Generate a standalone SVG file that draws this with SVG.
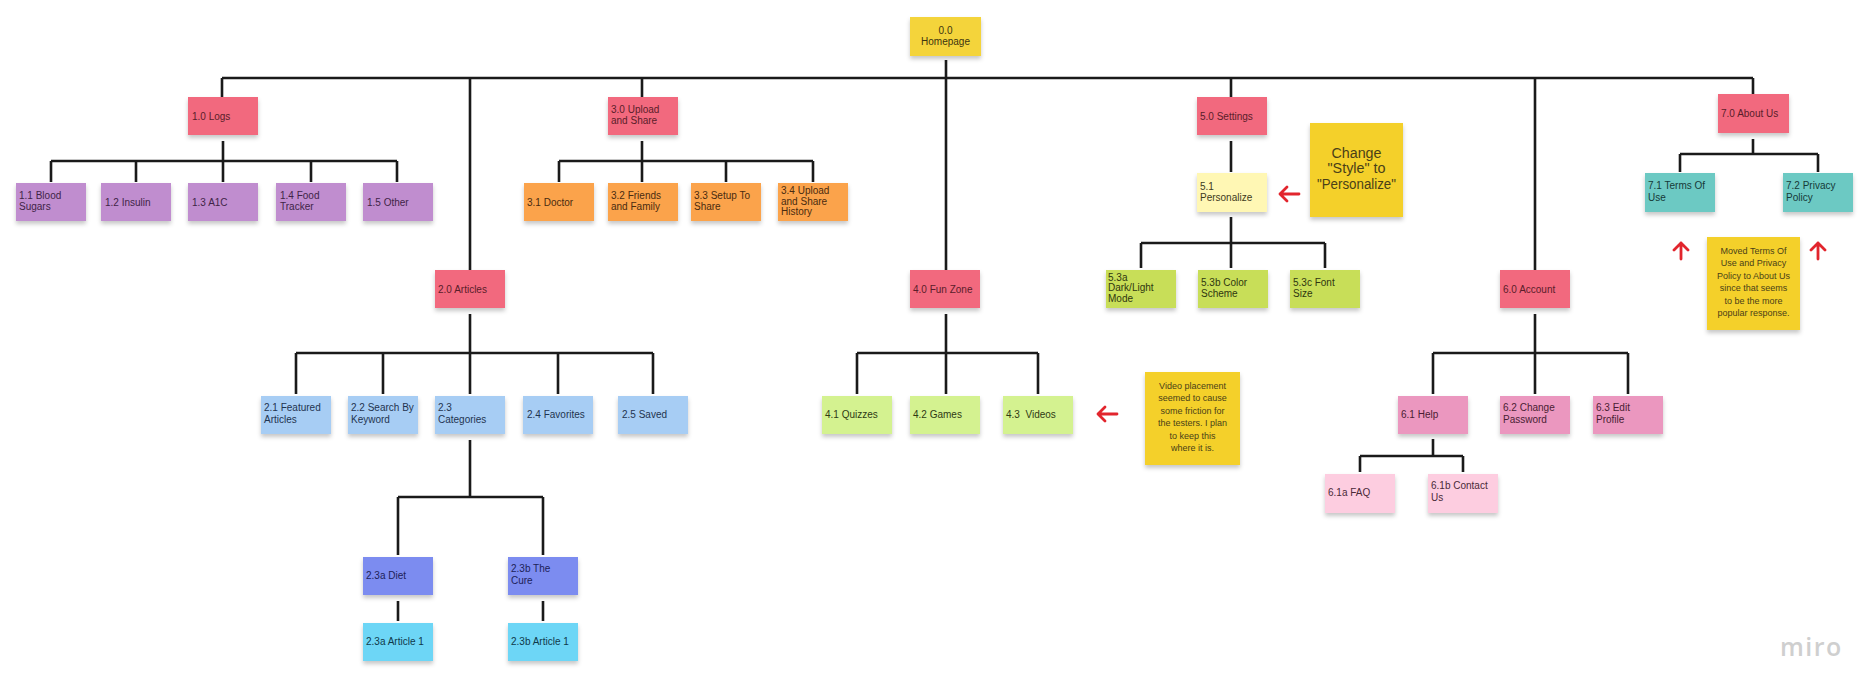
<svg xmlns="http://www.w3.org/2000/svg" width="1863" height="689" viewBox="0 0 1863 689">
<defs>
<filter id="sh" x="-20%" y="-20%" width="140%" height="150%">
<feDropShadow dx="0" dy="3" stdDeviation="2" flood-color="#000" flood-opacity="0.22"/>
</filter>
<style>
.n rect{filter:url(#sh)}
.t{font-family:"Liberation Sans",Arial,sans-serif;font-size:10px;fill:#333}
.c{text-anchor:middle}
.red rect{fill:#f2697e}
.red .t{fill:#5a1d2a}
.pur rect{fill:#c08dcf}
.pur .t{fill:#3f2447}
.ora rect{fill:#fba34c}
.ora .t{fill:#4a2b10}
.blu rect{fill:#a7cdf4}
.blu .t{fill:#1f3450}
.vio rect{fill:#7c8cf0}
.vio .t{fill:#1d2258}
.cya rect{fill:#6dd6f6}
.cya .t{fill:#10394a}
.lgr rect{fill:#d4f290}
.lgr .t{fill:#2f3a14}
.pye rect{fill:#fff7b4}
.pye .t{fill:#3d3a1c}
.ygr rect{fill:#c8de58}
.ygr .t{fill:#2f3610}
.tea rect{fill:#6cc9c3}
.tea .t{fill:#163a38}
.pnk rect{fill:#eb97bf}
.pnk .t{fill:#4a1d33}
.lpk rect{fill:#fdcde0}
.lpk .t{fill:#4a2a38}
.yel rect{fill:#f4d43a}
.yel .t{fill:#3d3510}
.note rect{fill:#f4d02c}
.nt{font-family:"Liberation Sans",Arial,sans-serif;font-size:9px;fill:#4a3f18;text-anchor:middle}
.ct{font-family:"Liberation Sans",Arial,sans-serif;font-size:14px;fill:#4a3f18;text-anchor:middle}
#connectors path{fill:none;stroke:#1a1a1a;stroke-width:2.6}
.arr{fill:none;stroke:#e2252d;stroke-width:2.8;stroke-linecap:round;stroke-linejoin:round}
</style>
</defs>
<rect width="1863" height="689" fill="#ffffff"/>

<g id="connectors">
<path d="M946 60V270 M222 78H1753 M222 78V97 M470 78V270 M642 78V97 M1231 78V97 M1535 78V270 M1753 78V94"/>
<path d="M223 141V161 M51 161H397 M51 161V182 M136 161V182 M223 161V182 M311 161V182 M397 161V182"/>
<path d="M642 141V161 M559 161H813 M559 161V182 M642 161V182 M726 161V182 M813 161V182"/>
<path d="M470 314V353 M296 353H653 M296 353V394 M383 353V394 M470 353V394 M558 353V394 M653 353V394"/>
<path d="M470 440V497 M398 497H543 M398 497V555 M543 497V555 M398 601V621 M543 601V621"/>
<path d="M946 314V353 M857 353H1038 M857 353V394 M946 353V394 M1038 353V394"/>
<path d="M1231 141V172 M1231 217V243 M1141 243H1325 M1141 243V268 M1231 243V268 M1325 243V268"/>
<path d="M1535 314V353 M1433 353H1628 M1433 353V394 M1535 353V394 M1628 353V394"/>
<path d="M1433 439V456 M1360 456H1463 M1360 456V472 M1463 456V472"/>
<path d="M1753 139V154 M1680 154H1818 M1680 154V172 M1818 154V172"/>
</g>

<g id="n00" class="n yel"><rect x="910" y="17" width="71" height="39"/><text class="t c" x="945.5" y="33.5">0.0</text><text class="t c" x="945.5" y="45">Homepage</text></g>

<g id="n10" class="n red"><rect x="188" y="97" width="70" height="38"/><text class="t" x="192" y="119.5">1.0 Logs</text></g>
<g id="n11" class="n pur"><rect x="16" y="183" width="70" height="38"/><text class="t" x="19" y="198.5">1.1 Blood</text><text class="t" x="19" y="210">Sugars</text></g>
<g id="n12" class="n pur"><rect x="101" y="183" width="70" height="38"/><text class="t" x="105" y="205.5">1.2 Insulin</text></g>
<g id="n13" class="n pur"><rect x="188" y="183" width="70" height="38"/><text class="t" x="192" y="205.5">1.3 A1C</text></g>
<g id="n14" class="n pur"><rect x="276" y="183" width="70" height="38"/><text class="t" x="280" y="198.5">1.4 Food</text><text class="t" x="280" y="210">Tracker</text></g>
<g id="n15" class="n pur"><rect x="363" y="183" width="70" height="38"/><text class="t" x="367" y="205.5">1.5 Other</text></g>

<g id="n30" class="n red"><rect x="608" y="97" width="70" height="38"/><text class="t" x="611" y="112.5">3.0 Upload</text><text class="t" x="611" y="124">and Share</text></g>
<g id="n31" class="n ora"><rect x="524" y="183" width="70" height="38"/><text class="t" x="527" y="205.5">3.1 Doctor</text></g>
<g id="n32" class="n ora"><rect x="608" y="183" width="70" height="38"/><text class="t" x="611" y="198.5">3.2 Friends</text><text class="t" x="611" y="210">and Family</text></g>
<g id="n33" class="n ora"><rect x="691" y="183" width="70" height="38"/><text class="t" x="694" y="198.5">3.3 Setup To</text><text class="t" x="694" y="210">Share</text></g>
<g id="n34" class="n ora"><rect x="778" y="183" width="70" height="38"/><text class="t" x="781" y="194">3.4 Upload</text><text class="t" x="781" y="204.5">and Share</text><text class="t" x="781" y="215">History</text></g>

<g id="n20" class="n red"><rect x="435" y="270" width="70" height="38"/><text class="t" x="438" y="292.5">2.0 Articles</text></g>
<g id="n21" class="n blu"><rect x="261" y="396" width="70" height="38"/><text class="t" x="264" y="411">2.1 Featured</text><text class="t" x="264" y="422.5">Articles</text></g>
<g id="n22" class="n blu"><rect x="348" y="396" width="70" height="38"/><text class="t" x="351" y="411">2.2 Search By</text><text class="t" x="351" y="422.5">Keyword</text></g>
<g id="n23" class="n blu"><rect x="435" y="396" width="70" height="38"/><text class="t" x="438" y="411">2.3</text><text class="t" x="438" y="422.5">Categories</text></g>
<g id="n24" class="n blu"><rect x="523" y="396" width="70" height="38"/><text class="t" x="527" y="417.5">2.4 Favorites</text></g>
<g id="n25" class="n blu"><rect x="618" y="396" width="70" height="38"/><text class="t" x="622" y="417.5">2.5 Saved</text></g>
<g id="n23a" class="n vio"><rect x="363" y="557" width="70" height="38"/><text class="t" x="366" y="578.5">2.3a Diet</text></g>
<g id="n23b" class="n vio"><rect x="508" y="557" width="70" height="38"/><text class="t" x="511" y="572">2.3b The</text><text class="t" x="511" y="583.5">Cure</text></g>
<g id="n23a1" class="n cya"><rect x="363" y="623" width="70" height="38"/><text class="t" x="366" y="644.5">2.3a Article 1</text></g>
<g id="n23b1" class="n cya"><rect x="508" y="623" width="70" height="38"/><text class="t" x="511" y="644.5">2.3b Article 1</text></g>

<g id="n40" class="n red"><rect x="910" y="270" width="70" height="38"/><text class="t" x="913" y="292.5">4.0 Fun Zone</text></g>
<g id="n41" class="n lgr"><rect x="822" y="396" width="70" height="38"/><text class="t" x="825" y="417.5">4.1 Quizzes</text></g>
<g id="n42" class="n lgr"><rect x="910" y="396" width="70" height="38"/><text class="t" x="913" y="417.5">4.2 Games</text></g>
<g id="n43" class="n lgr"><rect x="1003" y="396" width="70" height="38"/><text class="t" x="1006" y="417.5" xml:space="preserve">4.3  Videos</text></g>

<g id="n50" class="n red"><rect x="1197" y="97" width="70" height="38"/><text class="t" x="1200" y="119.5">5.0 Settings</text></g>
<g id="n51" class="n pye"><rect x="1197" y="173" width="70" height="39"/><text class="t" x="1200" y="189.5">5.1</text><text class="t" x="1200" y="201">Personalize</text></g>
<g id="n53a" class="n ygr"><rect x="1106" y="270" width="70" height="38"/><text class="t" x="1108" y="280.5">5.3a</text><text class="t" x="1108" y="291">Dark/Light</text><text class="t" x="1108" y="301.5">Mode</text></g>
<g id="n53b" class="n ygr"><rect x="1198" y="270" width="70" height="38"/><text class="t" x="1201" y="285.5">5.3b Color</text><text class="t" x="1201" y="297">Scheme</text></g>
<g id="n53c" class="n ygr"><rect x="1290" y="270" width="70" height="38"/><text class="t" x="1293" y="285.5">5.3c Font</text><text class="t" x="1293" y="297">Size</text></g>

<g id="n60" class="n red"><rect x="1500" y="270" width="70" height="38"/><text class="t" x="1503" y="292.5">6.0 Account</text></g>
<g id="n61" class="n pnk"><rect x="1398" y="396" width="70" height="38"/><text class="t" x="1401" y="417.5">6.1 Help</text></g>
<g id="n62" class="n pnk"><rect x="1500" y="396" width="70" height="38"/><text class="t" x="1503" y="411">6.2 Change</text><text class="t" x="1503" y="422.5">Password</text></g>
<g id="n63" class="n pnk"><rect x="1593" y="396" width="70" height="38"/><text class="t" x="1596" y="411">6.3 Edit</text><text class="t" x="1596" y="422.5">Profile</text></g>
<g id="n61a" class="n lpk"><rect x="1325" y="474" width="70" height="39"/><text class="t" x="1328" y="495.5">6.1a FAQ</text></g>
<g id="n61b" class="n lpk"><rect x="1428" y="474" width="70" height="39"/><text class="t" x="1431" y="489">6.1b Contact</text><text class="t" x="1431" y="500.5">Us</text></g>

<g id="n70" class="n red"><rect x="1718" y="94" width="71" height="39"/><text class="t" x="1721" y="116.5">7.0 About Us</text></g>
<g id="n71" class="n tea"><rect x="1645" y="173" width="70" height="39"/><text class="t" x="1648" y="189">7.1 Terms Of</text><text class="t" x="1648" y="200.5">Use</text></g>
<g id="n72" class="n tea"><rect x="1783" y="173" width="70" height="39"/><text class="t" x="1786" y="189">7.2 Privacy</text><text class="t" x="1786" y="200.5">Policy</text></g>

<g id="note-style" class="n note"><rect x="1310" y="123" width="93" height="94"/>
<text class="ct" x="1356.5" y="157.5" textLength="50" lengthAdjust="spacingAndGlyphs">Change</text>
<text class="ct" x="1356.5" y="173" textLength="58" lengthAdjust="spacingAndGlyphs">"Style" to</text>
<text class="ct" x="1356.5" y="188.5" textLength="79" lengthAdjust="spacingAndGlyphs">"Personalize"</text></g>

<g id="note-video" class="n note"><rect x="1145" y="372" width="95" height="93"/>
<text class="nt" x="1192.5" y="388.5">Video placement</text>
<text class="nt" x="1192.5" y="401">seemed to cause</text>
<text class="nt" x="1192.5" y="413.5">some friction for</text>
<text class="nt" x="1192.5" y="426">the testers. I plan</text>
<text class="nt" x="1192.5" y="438.5">to keep this</text>
<text class="nt" x="1192.5" y="451">where it is.</text></g>

<g id="note-moved" class="n note"><rect x="1707" y="237" width="93" height="93"/>
<text class="nt" x="1753.5" y="253.5">Moved Terms Of</text>
<text class="nt" x="1753.5" y="266">Use and Privacy</text>
<text class="nt" x="1753.5" y="278.5">Policy to About Us</text>
<text class="nt" x="1753.5" y="291">since that seems</text>
<text class="nt" x="1753.5" y="303.5">to be the more</text>
<text class="nt" x="1753.5" y="316">popular response.</text></g>

<g id="arrows">
<path class="arr" d="M1299 194H1280 M1287 187L1280 194L1287 201"/>
<path class="arr" d="M1117 414H1098 M1105 407L1098 414L1105 421"/>
<path class="arr" d="M1681 259V243 M1674 250L1681 243L1688 250"/>
<path class="arr" d="M1818 259V243 M1811 250L1818 243L1825 250"/>
</g>

<text x="1780" y="656" font-family="Open Sans, Liberation Sans, sans-serif" font-size="25" font-weight="600" fill="#cfcfcf" letter-spacing="1.5">miro</text>
</svg>
